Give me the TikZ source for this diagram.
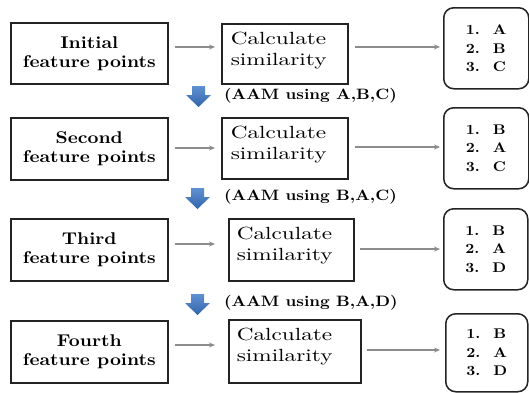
\documentclass[tikz,border=0pt]{standalone}
\usepackage{fontspec}
\newfontfamily\regw{lmroman10-regular.otf}[FakeStretch=1.32]
\newfontfamily\boldw{lmroman10-bold.otf}[FakeStretch=1.12]
\usetikzlibrary{arrows.meta}
\definecolor{boxline}{RGB}{35,35,35}
\definecolor{conncol}{RGB}{140,140,140}
\definecolor{bluetop}{RGB}{95,145,210}
\definecolor{bluebot}{RGB}{50,100,170}
\newcommand\calcsim[3]{\parbox[c][#1][t]{#2}{\vspace*{7.8pt}\leftskip=#3\relax Calculate\par similarity}}
\newcommand\rankitem[2]{\makebox[27pt][l]{#1}#2}
\begin{document}
\begin{tikzpicture}[x=1pt,y=-1pt,
  leftbox/.style={draw=boxline, line width=1.6pt, anchor=north west, inner sep=0pt,
    minimum width=157pt, minimum height=61pt, align=center,
    font=\boldw\fontsize{17}{19}\selectfont},
  midbox/.style={draw=boxline, line width=1.6pt, anchor=north west, inner sep=0pt,
    font=\regw\fontsize{17.6}{21}\selectfont},
  rightbox/.style={draw=boxline, line width=1.5pt, rounded corners=10pt, anchor=north west,
    inner sep=0pt, minimum width=85pt, minimum height=81pt, align=left,
    font=\boldw\fontsize{14}{18.5}\selectfont},
  aam/.style={anchor=west, inner sep=0pt, font=\boldw\fontsize{15}{18}\selectfont},
  conn/.style={draw=conncol, line width=1.1pt, -{Stealth[length=6pt,width=5pt]}},
  downarr/.pic={\shade[top color=bluetop, bottom color=bluebot]
    (-6.5,0) -- (6.5,0) -- (6.5,9) -- (12.5,9) -- (0,21) -- (-12.5,9) -- (-6.5,9) -- cycle;}
]
\fill[white] (0,0) rectangle (529,392);
\useasboundingbox (0,0) rectangle (529,392);

% left boxes
\node[leftbox] (l1) at (10,22) {Initial\\feature points};
\node[leftbox, minimum height=62pt] (l2) at (10,117) {Second\\feature points};
\node[leftbox, minimum height=62pt] (l3) at (10,218) {Third\\feature points};
\node[leftbox, minimum height=62pt] (l4) at (10,320) {Fourth\\feature points};

% middle boxes
\node[midbox] (m1) at (221,23) {\calcsim{60pt}{126pt}{9pt}};
\node[midbox] (m2) at (221,117) {\calcsim{61pt}{126pt}{9pt}};
\node[midbox] (m3) at (228,218) {\calcsim{62pt}{125pt}{8pt}};
\node[midbox] (m4) at (228,319) {\calcsim{63pt}{132pt}{8pt}};

% right boxes
\node[rightbox] (r1) at (443,7) {\rankitem{1.}{A}\\\rankitem{2.}{B}\\\rankitem{3.}{C}};
\node[rightbox] (r2) at (443,107) {\rankitem{1.}{B}\\\rankitem{2.}{A}\\\rankitem{3.}{C}};
\node[rightbox, minimum width=84pt] (r3) at (443,208) {\rankitem{1.}{B}\\\rankitem{2.}{A}\\\rankitem{3.}{D}};
\node[rightbox, minimum width=82pt, minimum height=78pt] (r4) at (445,313) {\rankitem{1.}{B}\\\rankitem{2.}{A}\\\rankitem{3.}{D}};

% arrow levels
\coordinate (a1) at (0,47);  \coordinate (b1) at (0,47);
\coordinate (a2) at (0,148); \coordinate (b2) at (0,147);
\coordinate (a3) at (0,244); \coordinate (b3) at (0,249);
\coordinate (a4) at (0,345); \coordinate (b4) at (0,350);

% connectors
\draw[conn, shorten <=6pt, shorten >=6pt] (l1.east |- a1) -- (m1.west |- a1);
\draw[conn, shorten <=6pt, shorten >=6pt] (l2.east |- a2) -- (m2.west |- a2);
\draw[conn, shorten <=6pt, shorten >=13pt] (l3.east |- a3) -- (m3.west |- a3);
\draw[conn, shorten <=6pt, shorten >=13pt] (l4.east |- a4) -- (m4.west |- a4);

\draw[conn, shorten <=6pt, shorten >=3pt] (m1.east |- b1) -- (r1.west |- b1);
\draw[conn, shorten <=6pt, shorten >=3pt] (m2.east |- b2) -- (r2.west |- b2);
\draw[conn, shorten <=5pt, shorten >=3pt] (m3.east |- b3) -- (r3.west |- b3);
\draw[conn, shorten <=5pt, shorten >=5pt] (m4.east |- b4) -- (r4.west |- b4);

% blue down arrows
\pic at (198.5,86) {downarr};
\pic at (197.5,188) {downarr};
\pic at (197.5,294) {downarr};

% AAM labels
\node[aam] (t1) at (224,96) {(AAM using A,B,C)};
\node[aam] (t2) at (224,197) {(AAM using B,A,C)};
\node[aam] (t3) at (224,303) {(AAM using B,A,D)};
\end{tikzpicture}
\end{document}
